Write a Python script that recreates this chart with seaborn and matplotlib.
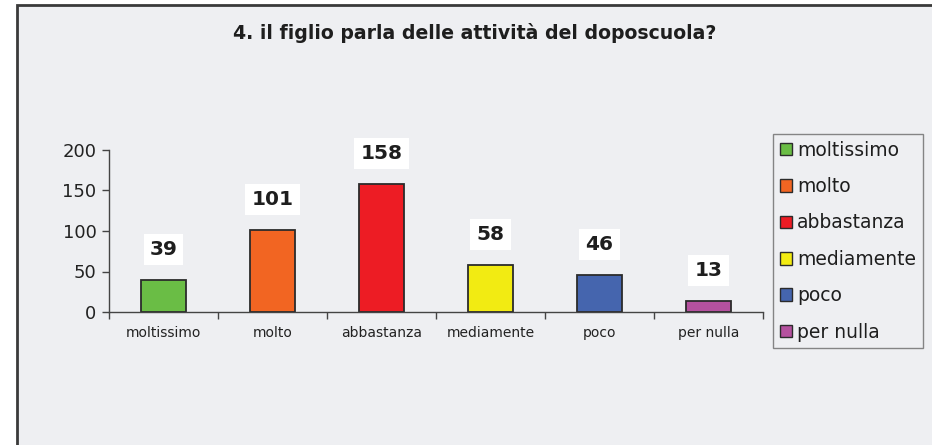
import matplotlib.pyplot as plt
import pandas as pd
import seaborn as sns
from matplotlib.patches import Patch, Rectangle

# data
CATEGORIES = ["moltissimo", "molto", "abbastanza", "mediamente", "poco", "per nulla"]
COUNTS = [39, 101, 158, 58, 46, 13]
COLORS = ["#6abd45", "#f26522", "#ed1c24", "#f2eb12", "#4565ae", "#b5519f"]
TITLE = "4. il figlio parla delle attività del doposcuola?"

BG = "#eeeff2"
W, H = 932, 445


def main() -> None:
    sns.set_theme(style="white")
    plt.rcParams["font.family"] = ["DejaVu Sans"]

    df = pd.DataFrame({"risposta": CATEGORIES, "n": COUNTS})

    fig = plt.figure(figsize=(W / 100, H / 100), dpi=100)
    fig.patch.set_facecolor("white")
    # chart area frame (cut at right/bottom like the reference)
    fig.patches.append(
        Rectangle((17 / W, -0.05), 1.0, (H - 5) / H + 0.05, transform=fig.transFigure,
                  facecolor=BG, edgecolor="#3a3a3a", linewidth=2, zorder=-5)
    )

    ax = fig.add_axes([109 / W, (H - 312) / H, 654 / W, 162 / H])
    ax.patch.set_alpha(0)

    sns.barplot(data=df, x="risposta", y="n", hue="risposta", palette=COLORS,
                saturation=1, legend=False, width=0.42, edgecolor="#2b2b2b",
                linewidth=1.3, ax=ax)

    ax.set_ylim(0, 200)
    ax.set_xlim(-0.5, len(CATEGORIES) - 0.5)
    ax.set_yticks([0, 50, 100, 150, 200])
    ax.tick_params(axis="y", labelsize=13, length=5, width=1, color="#444444",
                   left=True, pad=4, labelcolor="#222222")
    # labels centred under bars, ticks on the category boundaries
    ax.set_xticks(range(len(CATEGORIES)), minor=True)
    ax.set_xticklabels(CATEGORIES, minor=True)
    ax.set_xticks([i + 0.5 for i in range(-1, len(CATEGORIES))])
    ax.set_xticklabels([])
    ax.tick_params(axis="x", which="major", length=5, width=1, color="#444444",
                   bottom=True, direction="out")
    ax.tick_params(axis="x", which="minor", length=0, labelsize=10, pad=10,
                   labelcolor="#222222")
    ax.set_xlabel("")
    ax.set_ylabel("")
    sns.despine(ax=ax)
    for side in ("left", "bottom"):
        ax.spines[side].set_color("#444444")
        ax.spines[side].set_linewidth(1)

    for i, v in enumerate(COUNTS):
        ax.annotate(str(v), (i, v), xytext=(0, 22), textcoords="offset points",
                    ha="center", va="center", fontsize=14.5, fontweight="bold",
                    color="#1e1e1e",
                    bbox=dict(boxstyle="square,pad=0.3", facecolor="white",
                              edgecolor="none"))

    fig.text(475 / W, 1 - 33 / H, TITLE, ha="center", va="center",
             fontsize=13.6, fontweight="bold", color="#1e1e1e")

    handles = [Patch(facecolor=c, edgecolor="#2b2b2b", linewidth=1) for c in COLORS]
    leg = fig.legend(handles, CATEGORIES, loc="upper left",
                     bbox_to_anchor=(773 / W, 1 - 134 / H), fontsize=13.5,
                     frameon=True, fancybox=False, handlelength=0.65,
                     handleheight=0.65, handletextpad=0.3, labelspacing=0.93,
                     borderpad=0.35, borderaxespad=0)
    leg.get_frame().set_facecolor(BG)
    leg.get_frame().set_edgecolor("#6a6a6a")
    leg.get_frame().set_linewidth(1)
    for t in leg.get_texts():
        t.set_color("#1e1e1e")

    fig.savefig("out.png", dpi=100, facecolor=fig.get_facecolor())
    plt.close(fig)


if __name__ == "__main__":
    main()
